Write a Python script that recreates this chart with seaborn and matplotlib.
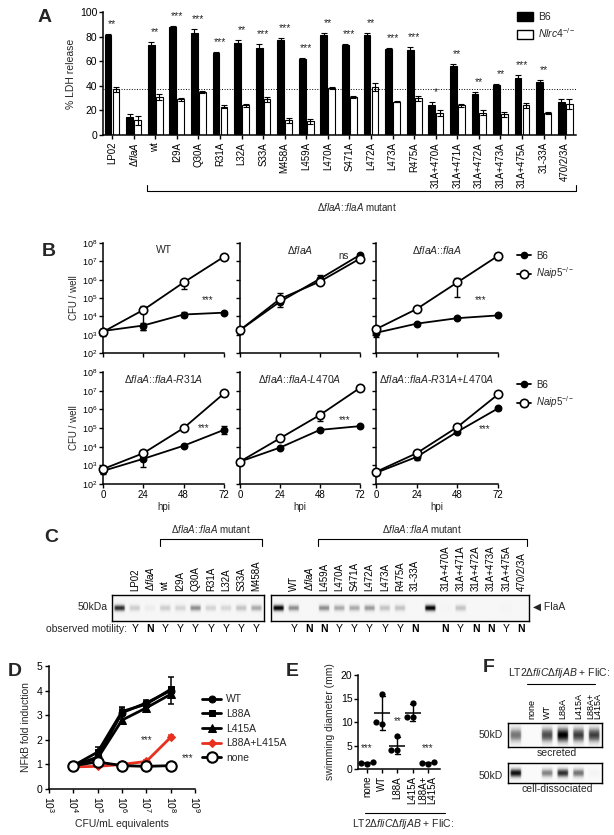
import numpy as np
import pandas as pd
import seaborn as sns
import matplotlib
matplotlib.use('Agg')
from matplotlib import pyplot as plt
from matplotlib.lines import Line2D
from matplotlib.patches import Patch
from matplotlib.transforms import blended_transform_factory

W, H = 614, 835

# ---------------- A: LDH release ----------------
a_strains = ['LP02', r'$\Delta\mathit{flaA}$', 'wt', 'I29A', 'Q30A', 'R31A', 'L32A', 'S33A', 'M458A',
             'L459A', 'L470A', 'S471A', 'L472A', 'L473A', 'R475A', '31A+470A', '31A+471A',
             '31A+472A', '31A+473A', '31A+475A', '31-33A', '470/2/3A']
a_b6 = [81, 15, 73, 88, 83, 67, 75, 71, 77, 62, 81, 73, 81, 70, 69, 24, 56, 33, 41, 46, 43, 27]
a_b6_err = [1, 2, 2.5, 0.5, 3, 0.5, 2, 3, 1.5, 0.5, 2, 1, 2, 0.5, 2.5, 2.5, 2, 2, 0.5, 2.5, 1.5, 2]
a_nlrc4 = [37, 12, 31, 29, 35, 23, 24, 29, 12, 11, 38, 31, 39, 27, 30, 18, 24, 18, 17, 24, 18, 25]
a_nlrc4_err = [2, 3.5, 2.5, 1, 1, 1, 1.5, 2, 2, 2, 1, 1, 3, 0.5, 2, 2.5, 1, 2, 2, 2, 1, 4]
a_stars = ['**', '', '**', '***', '***', '***', '**', '***', '***', '***', '**', '***', '**', '***',
           '***', '*', '**', '**', '**', '***', '**', '']
a_threshold = 37

# ---------------- B: growth curves (log10 CFU / well) ----------------
b_hpi = [0, 24, 48, 72]
b_titles = ['WT', r'$\Delta\mathit{flaA}$', r'$\Delta\mathit{flaA}$::$\mathit{flaA}$',
            r'$\Delta\mathit{flaA}$::$\mathit{flaA}$-$\mathit{R31A}$',
            r'$\Delta\mathit{flaA}$::$\mathit{flaA}$-$\mathit{L470A}$',
            r'$\Delta\mathit{flaA}$::$\mathit{flaA}$-$\mathit{R31A}$+$\mathit{L470A}$']
b_b6 = [[3.2, 3.5, 4.1, 4.2], [3.25, 4.8, 6.05, 7.35], [3.1, 3.6, 3.9, 4.05],
        [2.7, 3.35, 4.05, 4.9], [3.2, 3.95, 4.9, 5.1], [2.6, 3.45, 4.8, 6.05]]
b_b6_dn = [[0.25, 0.25, 0.15, 0.05], [0.2, 0.3, 0.05, 0.05], [0.2, 0.05, 0.05, 0.05],
           [0.15, 0.45, 0.05, 0.2], [0.15, 0.05, 0.05, 0.05], [0.1, 0.15, 0.05, 0.1]]
b_b6_up = [[0.1, 0.15, 0.15, 0.05], [0.05, 0.1, 0.2, 0.05], [0.05, 0.05, 0.05, 0.05],
           [0.05, 0.1, 0.05, 0.2], [0.05, 0.05, 0.05, 0.05], [0.05, 0.05, 0.05, 0.1]]
b_naip5 = [[3.15, 4.35, 5.85, 7.25], [3.25, 4.95, 5.9, 7.15], [3.3, 4.4, 5.85, 7.3],
           [2.8, 3.65, 5.0, 6.85], [3.2, 4.45, 5.7, 7.15], [2.65, 3.65, 5.05, 6.8]]
b_naip5_dn = [[0.05, 1.1, 0.35, 0.05], [0.05, 0.2, 0.15, 0.05], [0.05, 0.05, 0.8, 0.2],
              [0.05, 0.05, 0.1, 0.05], [0.15, 0.05, 0.35, 0.05], [0.05, 0.05, 0.05, 0.05]]
b_naip5_up = [[0.05, 0.2, 0.15, 0.05], [0.05, 0.35, 0.05, 0.05], [0.05, 0.05, 0.25, 0.15],
              [0.05, 0.05, 0.05, 0.05], [0.05, 0.05, 0.2, 0.05], [0.05, 0.05, 0.05, 0.05]]
b_sig = ['***', 'ns', '***', '***', '***', '***']
b_sig_x = [62, 62, 62, 60, 63, 64]
b_sig_y = [4.9, 7.3, 4.9, 5.0, 5.4, 4.95]

# ---------------- C: FlaA western blots ----------------
c1_lanes = ['', 'LP02', r'$\Delta\mathit{flaA}$', 'wt', 'I29A', 'Q30A', 'R31A', 'L32A', 'S33A', 'M458A']
c1_band = [0.85, 0.25, 0.08, 0.25, 0.22, 0.5, 0.22, 0.2, 0.3, 0.4]
c1_motility = ['', 'Y', 'N', 'Y', 'Y', 'Y', 'Y', 'Y', 'Y', 'Y']
c2_lanes = ['', 'WT', r'$\Delta\mathit{flaA}$', 'L459A', 'L470A', 'S471A', 'L472A', 'L473A', 'R475A',
            '31-33A', '', '31A+470A', '31A+471A', '31A+472A', '31A+473A', '31A+475A', '470/2/3A']
c2_band = [1.0, 0.5, 0.0, 0.5, 0.4, 0.4, 0.45, 0.3, 0.3, 0.0, 1.0, 0.02, 0.3, 0.0, 0.0, 0.02, 0.0]
c2_motility = ['', 'Y', 'N', 'N', 'Y', 'Y', 'Y', 'Y', 'Y', 'N', '', 'N', 'Y', 'N', 'N', 'Y', 'N']

# ---------------- D: NF-kB reporter ----------------
d_cfu = [1e4, 1e5, 1e6, 1e7, 1e8]
d_series = ['WT', 'L88A', 'L415A', 'L88A+L415A', 'none']
d_values = [[0.95, 1.3, 3.1, 3.5, 4.0],
            [0.95, 1.5, 3.15, 3.45, 4.05],
            [0.95, 1.25, 2.8, 3.3, 3.85],
            [0.9, 0.92, 1.0, 1.12, 2.1],
            [0.95, 1.1, 0.95, 0.92, 0.95]]
d_err = [[0.05, 0.1, 0.25, 0.1, 0.55],
         [0.05, 0.2, 0.15, 0.1, 0.1],
         [0.05, 0.1, 0.15, 0.1, 0.1],
         [0.03, 0.03, 0.03, 0.05, 0.08],
         [0.03, 0.03, 0.03, 0.03, 0.03]]
d_sig = ['***', '***']
d_sig_x = [1e7, 10 ** 8.7]
d_sig_y = [2.0, 1.25]

# ---------------- E: swimming motility ----------------
e_strains = ['none', 'WT', 'L88A', 'L415A', 'L88A+\nL415A']
e_diam = [[1.5, 1.2, 1.0], [9.5, 10.0, 16.0], [4.0, 4.0, 7.0], [11.0, 11.0, 14.0], [1.5, 1.2, 1.0]]
e_sig = ['***', '', '**', '', '***']
e_sig_y = [4.4, 0, 10.2, 0, 4.4]

# ---------------- F: FliC blots ----------------
f_lanes = ['', 'none', 'WT', 'L88A', 'L415A', 'L88A+\nL415A']
f_secreted = [0.6, 0.0, 0.75, 1.0, 0.8, 0.8]
f_cell = [0.95, 0.0, 0.55, 0.85, 0.6, 0.05]

sns.set_theme(style='ticks')
plt.rcParams['font.family'] = ['Liberation Sans', 'DejaVu Sans']
plt.rcParams['mathtext.fontset'] = 'custom'
plt.rcParams['mathtext.rm'] = 'Liberation Sans'
plt.rcParams['mathtext.it'] = 'Liberation Sans:italic'
plt.rcParams['mathtext.bf'] = 'Liberation Sans:bold'
plt.rcParams['axes.linewidth'] = 1.1
plt.rcParams['xtick.major.width'] = 1.0
plt.rcParams['ytick.major.width'] = 1.0
plt.rcParams['xtick.major.size'] = 3
plt.rcParams['ytick.major.size'] = 3
plt.rcParams['xtick.color'] = 'black'
plt.rcParams['ytick.color'] = 'black'
plt.rcParams['axes.edgecolor'] = 'black'

fig = plt.figure(figsize=(W / 100, H / 100), dpi=100)


def px_axes(left, top, right, bottom):
    return fig.add_axes([left / W, 1 - bottom / H, (right - left) / W, (bottom - top) / H])


def fy(y):
    return 1 - y / H


def fx(x):
    return x / W


def letter(x, y, s):
    fig.text(fx(x), fy(y), s, fontsize=14, fontweight='bold', va='center', ha='left',
             family=['Liberation Sans Narrow', 'Liberation Sans'])


def bracket(x0, x1, y_line, y_tip, label, y_label):
    fig.add_artist(Line2D([fx(x0), fx(x0), fx(x1), fx(x1)], [fy(y_tip), fy(y_line), fy(y_line), fy(y_tip)],
                          color='black', lw=0.8, transform=fig.transFigure))
    fig.text(fx((x0 + x1) / 2), fy(y_label), label, ha='center', va='center', fontsize=7)


# -------- A --------
ax = px_axes(103, 12, 576, 135)
df_a = pd.DataFrame({'strain': a_strains * 2,
                     'mouse': ['B6'] * len(a_strains) + ['Nlrc4'] * len(a_strains),
                     'ldh': a_b6 + a_nlrc4})
sns.barplot(data=df_a, x='strain', y='ldh', hue='mouse', palette={'B6': 'black', 'Nlrc4': 'white'},
            edgecolor='black', linewidth=0.8, width=0.74, gap=0.15, errorbar=None, legend=False, ax=ax)
for cont, err in zip(ax.containers, [a_b6_err, a_nlrc4_err]):
    xs = [p.get_x() + p.get_width() / 2 for p in cont]
    hs = [p.get_height() for p in cont]
    ax.errorbar(xs, hs, yerr=err, fmt='none', ecolor='black', elinewidth=0.8, capsize=2, capthick=0.8)
for i, (s, v, e) in enumerate(zip(a_stars, a_b6, a_b6_err)):
    ax.text(i, v + e + 4, s, ha='center', va='bottom', fontsize=7.5)
ax.axhline(a_threshold, ls=':', color='black', lw=0.7)
ax.set_ylim(0, 100)
ax.set_xlim(-0.42, len(a_strains) - 0.5)
ax.set_yticks([0, 20, 40, 60, 80, 100])
ax.tick_params(axis='y', labelsize=7.5, pad=1)
ax.tick_params(axis='x', labelsize=7, rotation=90, pad=2)
ax.set_xlabel('')
ax.set_ylabel('% LDH release', fontsize=7.5, labelpad=3)
sns.despine(ax=ax)
fig.legend(handles=[Patch(facecolor='black', edgecolor='black'), Patch(facecolor='white', edgecolor='black')],
           labels=['B6', r'$\mathit{Nlrc4}^{-/-}$'], loc='upper left', bbox_to_anchor=(fx(508), fy(3)),
           frameon=False, fontsize=7.5, handlelength=1.5, handleheight=0.9, labelspacing=0.35,
           handletextpad=0.5)
tr = blended_transform_factory(ax.transData, fig.transFigure)
ax.plot([1.6, 1.6, 21.5, 21.5], [fy(185), fy(191), fy(191), fy(185)], color='black', lw=0.8,
        transform=tr, clip_on=False)
fig.text(fx(357), fy(207), r'$\Delta\mathit{flaA}$::$\mathit{flaA}$ mutant', ha='center', va='center',
         fontsize=7)
letter(38, 18, 'A')

# -------- B --------
rows = [(243, 353), (372, 484)]
cols = [(103, 224), (240, 360), (376, 498)]
for k in range(6):
    r, c = divmod(k, 3)
    ax = px_axes(cols[c][0], rows[r][0], cols[c][1], rows[r][1])
    for vals, dn, up, mfc, ms in [(b_b6[k], b_b6_dn[k], b_b6_up[k], 'black', 4.5),
                                  (b_naip5[k], b_naip5_dn[k], b_naip5_up[k], 'white', 6)]:
        cfu = 10 ** np.array(vals)
        lo = cfu - 10 ** (np.array(vals) - np.array(dn))
        hi = 10 ** (np.array(vals) + np.array(up)) - cfu
        ax.errorbar(b_hpi, cfu, yerr=[lo, hi], fmt='none', ecolor='black', elinewidth=1.0, capsize=2.5,
                    capthick=1.0, clip_on=False, zorder=2)
        sns.lineplot(x=b_hpi, y=cfu, color='black', lw=1.3, marker='o', markersize=ms, mfc=mfc,
                     mec='black', mew=1.2, ax=ax, clip_on=False, zorder=3)
    ax.set_yscale('log')
    ax.set_ylim(1e2, 1e8)
    ax.set_xlim(0, 72)
    ax.set_xticks(b_hpi)
    ax.set_yticks([10.0 ** e for e in range(2, 9)])
    ax.minorticks_off()
    ax.tick_params(labelsize=6.5, pad=1)
    if c > 0:
        ax.set_yticklabels([])
    else:
        ax.set_ylabel('CFU / well', fontsize=7, labelpad=2)
    if r == 0:
        ax.set_xticklabels([])
    else:
        ax.set_xlabel('hpi', fontsize=7, labelpad=2)
        ax.tick_params(axis='x', labelsize=7)
    ax.text(0.5, 0.94, b_titles[k], transform=ax.transAxes, ha='center', va='center', fontsize=7.5)
    ax.text(b_sig_x[k], 10 ** b_sig_y[k], b_sig[k], ha='center', va='center', fontsize=7)
    sns.despine(ax=ax)
for r in range(2):
    fig.legend(handles=[Line2D([], [], color='black', marker='o', ms=4.5, lw=1.3),
                        Line2D([], [], color='black', marker='o', ms=6, mfc='white', mew=1.2, lw=1.3)],
               labels=['B6', r'$\mathit{Naip5}^{-/-}$'], loc='upper left',
               bbox_to_anchor=(fx(508), fy(rows[r][0] - 1)), frameon=False, fontsize=7,
               handlelength=1.5, labelspacing=0.5, handletextpad=0.5)
letter(42, 251, 'B')


# -------- C --------
def gel(ax, bands, sigma, center=0.5, sub=12, n_rows=40, bg=0.07):
    rows_ = np.linspace(0, 1, n_rows)
    profile = np.exp(-0.5 * ((rows_ - center) / sigma) ** 2)
    xs = np.linspace(-0.5, 0.5, sub)
    lane = np.clip(1.3 - (np.abs(xs) / 0.4) ** 4, 0, 1)
    img = np.kron(np.array(bands)[None, :], lane[None, :]) * profile[:, None]
    img = bg + (1 - bg) * np.clip(img, 0, 1)
    n = len(bands)
    ax.imshow(img, cmap='Greys', vmin=0, vmax=1, aspect='auto', interpolation='bilinear',
              extent=(-0.5, n - 0.5, 1, 0))
    ax.set_xlim(-0.5, n - 0.5)
    ax.set_ylim(1, 0)
    ax.set_yticks([])
    for sp in ax.spines.values():
        sp.set_visible(True)
        sp.set_linewidth(1.0)


for (x0, x1), lanes, bands, mot in [((112, 264), c1_lanes, c1_band, c1_motility),
                                     ((271, 529), c2_lanes, c2_band, c2_motility)]:
    ax = px_axes(x0, 595, x1, 621)
    gel(ax, bands, 0.09)
    ax.set_xticks(range(len(lanes)), labels=mot, fontsize=7.5)
    ax.tick_params(axis='x', length=0, pad=2)
    for t, m in zip(ax.get_xticklabels(), mot):
        if m == 'N':
            t.set_fontweight('bold')
    sec = ax.secondary_xaxis('top')
    sec.set_xticks(range(len(lanes)), labels=lanes, rotation=90, fontsize=7)
    sec.tick_params(length=0, pad=3)
    sec.spines['top'].set_visible(False)
fig.text(fx(108), fy(607), '50kDa', ha='right', va='center', fontsize=7.5)
fig.text(fx(533), fy(607), '\u25c0 FlaA', ha='left', va='center', fontsize=7.5,
         family=['Liberation Sans', 'DejaVu Sans'])
fig.text(fx(127), fy(629), 'observed motility:', ha='right', va='center', fontsize=7.5)
bracket(160, 262, 539, 546, r'$\Delta\mathit{flaA}$::$\mathit{flaA}$ mutant', 529)
bracket(318, 527, 539, 546, r'$\Delta\mathit{flaA}$::$\mathit{flaA}$ mutant', 529)
letter(44, 537, 'C')

# -------- D --------
ax = px_axes(49, 666, 195, 789)
d_style = {'WT': dict(marker='o', color='black', ms=5),
           'L88A': dict(marker='s', color='black', ms=5),
           'L415A': dict(marker='^', color='black', ms=5.5),
           'L88A+L415A': dict(marker='D', color='#e8301f', ms=4.5),
           'none': dict(marker='o', color='black', ms=7.5, mfc='white', mew=1.5)}
for name, vals, err in zip(d_series, d_values, d_err):
    st = d_style[name]
    ax.errorbar(d_cfu, vals, yerr=err, fmt='none', ecolor=st['color'], elinewidth=1.1, capsize=2.5,
                capthick=1.1)
    sns.lineplot(x=d_cfu, y=vals, lw=2, ax=ax, mec=st['color'], label=name, **st)
ax.set_xscale('log')
ax.set_xlim(1e3, 1e9)
ax.set_ylim(0, 5)
ax.set_xticks([10.0 ** e for e in range(3, 10)])
ax.set_xticklabels([r'$10^{%d}$' % e for e in range(3, 10)], rotation=-90)
ax.minorticks_off()
ax.tick_params(labelsize=7.5, pad=2)
ax.set_xlabel('CFU/mL equivalents', fontsize=7.5, labelpad=4)
ax.set_ylabel('NFkB fold induction', fontsize=7.5, labelpad=4)
for s, x, y in zip(d_sig, d_sig_x, d_sig_y):
    ax.text(x, y, s, ha='center', va='center', fontsize=7)
h, l = ax.get_legend_handles_labels()
ax.legend_.remove()
fig.legend(h, l, loc='upper left', bbox_to_anchor=(fx(193), fy(685)), frameon=False, fontsize=7.5,
           handlelength=1.8, labelspacing=0.45, handletextpad=0.5)
sns.despine(ax=ax)
letter(8, 672, 'D')

# -------- E --------
ax = px_axes(358, 675, 440, 769)
df_e = pd.DataFrame({'strain': np.repeat(e_strains, 3), 'diam': np.concatenate(e_diam)})
sns.swarmplot(data=df_e, x='strain', y='diam', color='black', size=4.5, ax=ax)
sns.pointplot(data=df_e, x='strain', y='diam', errorbar='sd', linestyle='none', marker='_',
              markersize=11, markeredgewidth=1.1, capsize=0.3, color='black',
              err_kws={'linewidth': 1.0}, ax=ax)
for i, (s, y) in enumerate(zip(e_sig, e_sig_y)):
    if s:
        ax.text(i, y, s, ha='center', va='center', fontsize=7)
ax.set_ylim(0, 20)
ax.set_xlim(-0.6, 4.8)
ax.set_yticks([0, 5, 10, 15, 20])
ax.tick_params(axis='x', rotation=90, labelsize=7, pad=2)
ax.tick_params(axis='y', labelsize=7.5, pad=1)
for t in ax.get_xticklabels():
    t.set_linespacing(0.8)
ax.set_xlabel('')
ax.set_ylabel('swimming diameter (mm)', fontsize=7.5, labelpad=4)
sns.despine(ax=ax)
fig.add_artist(Line2D([fx(365), fx(445)], [fy(813), fy(813)], color='black', lw=0.8,
                      transform=fig.transFigure))
fig.text(fx(403), fy(824), r'LT2$\Delta\mathit{fliC}\Delta\mathit{fljAB}$ + FliC:', ha='center',
         va='center', fontsize=7.5)
letter(286, 672, 'E')

# -------- F --------
ax = px_axes(508, 723, 602, 747)
gel(ax, f_secreted, 0.22, bg=0.04)
ax.set_xticks([])
sec = ax.secondary_xaxis('top')
sec.set_xticks(range(len(f_lanes)), labels=f_lanes, rotation=90, fontsize=6.5)
sec.tick_params(length=0, pad=3)
for t in sec.get_xticklabels():
    t.set_linespacing(0.75)
sec.spines['top'].set_visible(False)
ax = px_axes(508, 763, 602, 783)
gel(ax, f_cell, 0.16, bg=0.04)
ax.set_xticks([])
for y in (735, 776):
    fig.text(fx(503), fy(y), '50kD', ha='right', va='center', fontsize=7.5)
fig.text(fx(557), fy(753), 'secreted', ha='center', va='center', fontsize=7.5)
fig.text(fx(557), fy(789), 'cell-dissociated', ha='center', va='center', fontsize=7.5)
fig.add_artist(Line2D([fx(527), fx(595)], [fy(684), fy(684)], color='black', lw=0.8,
                      transform=fig.transFigure))
fig.text(fx(559), fy(673), r'LT2$\Delta\mathit{fliC}\Delta\mathit{fljAB}$ + FliC:', ha='center',
         va='center', fontsize=7.5)
letter(483, 668, 'F')

fig.savefig('out.png', dpi=100)
